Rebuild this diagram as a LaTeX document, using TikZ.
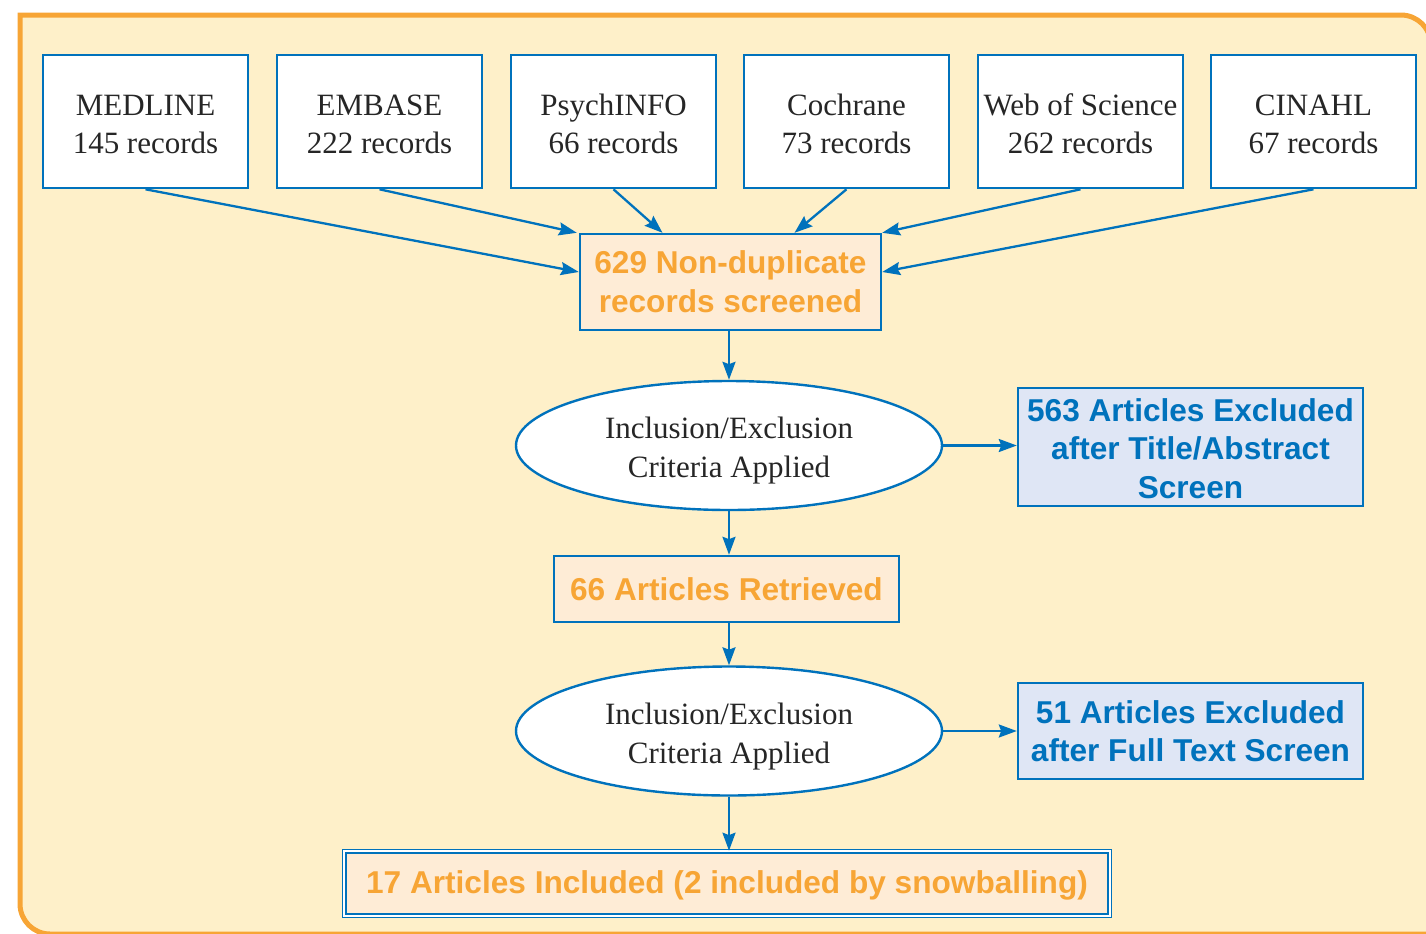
\documentclass[tikz,border=0pt]{standalone}
\usepackage{fontspec}
\setmainfont{Liberation Serif}
\newfontfamily\hsans{Liberation Sans}
\usetikzlibrary{shapes.geometric,arrows.meta}
\definecolor{pblue}{RGB}{0,114,188}
\definecolor{porange}{RGB}{247,165,53}
\definecolor{pbg}{RGB}{254,240,201}
\definecolor{pbox}{RGB}{254,236,214}
\definecolor{pblbox}{RGB}{223,230,245}
\begin{document}
\begin{tikzpicture}[x=0.5pt,y=-0.5pt,
 src/.style={draw=pblue,line width=1.3pt,fill=white,minimum width=102.5pt,minimum height=66.5pt,inner sep=0pt,align=center,font=\fontsize{15.5}{19}\selectfont,text=black!85},
 obox/.style={draw=pblue,line width=1.2pt,fill=pbox,inner sep=0pt,align=center,text=porange,font=\hsans\bfseries\fontsize{15.8}{19.5}\selectfont},
 bbox/.style={draw=pblue,line width=1.2pt,fill=pblbox,inner sep=0pt,align=center,text=pblue,font=\hsans\bfseries\fontsize{15.8}{19.3}\selectfont},
 crit/.style={ellipse,draw=pblue,line width=1.2pt,fill=white,minimum width=213pt,minimum height=64.5pt,inner sep=0pt,align=center,font=\fontsize{15.5}{19.5}\selectfont,text=black!85},
 arr/.style={draw=pblue,line width=1.15pt,-{Stealth[length=9pt,width=6.5pt,inset=1.2pt]}}
]
\useasboundingbox (0,0) rectangle (1426,933);
\clip (0,0) rectangle (1426,933);
% panel
\draw[draw=porange,fill=pbg,line width=2.5pt,line cap=rect]
  (20,15) -- (1401,15) .. controls (1417.5,15) and (1431,28.5) .. (1431,45)
  -- (1431,934) -- (50,934) .. controls (33.5,934) and (20,920.5) .. (20,904) -- (20,15);
% sources
\node[src] (med) at (145.5,121.5) {\rule{0pt}{13pt}MEDLINE\\145 records};
\node[src] (emb) at (379.5,121.5) {\rule{0pt}{13pt}EMBASE\\222 records};
\node[src] (psy) at (613.5,121.5) {\rule{0pt}{13pt}PsychINFO\\66 records};
\node[src] (coc) at (846.5,121.5) {\rule{0pt}{13pt}Cochrane\\73 records};
\node[src] (wos) at (1080.5,121.5) {\rule{0pt}{13pt}Web of Science\\262 records};
\node[src] (cin) at (1313.5,121.5) {\rule{0pt}{13pt}CINAHL\\67 records};
% flow
\node[obox,minimum width=150.5pt,minimum height=48pt] (scr) at (730.5,282) {629 Non-duplicate\\records screened};
\node[crit] (c1) at (729,445.5) {\rule{0pt}{16pt}Inclusion/Exclusion\\Criteria Applied};
\node[bbox,minimum width=172.5pt,minimum height=59pt] (ex1) at (1190.5,447) {\rule{0pt}{13pt}563 Articles Excluded\\after Title/Abstract\\Screen};
\node[obox,minimum width=172.5pt,minimum height=33pt] (ret) at (726.5,589) {66 Articles Retrieved};
\node[crit] (c2) at (729,731) {\rule{0pt}{16pt}Inclusion/Exclusion\\Criteria Applied};
\node[bbox,minimum width=172.5pt,minimum height=48pt] (ex2) at (1190.5,731) {51 Articles Excluded\\after Full Text Screen};
\node[obox,line width=0.7pt,double=white,double distance=1pt,minimum width=382.6pt,minimum height=32.1pt] (inc) at (727,883.5) {\rule{0pt}{13pt}17 Articles Included (2 included by snowballing)};
% arrows
\draw[arr] (med.south) -- ([yshift=5pt]scr.west);
\draw[arr] (emb.south) -- ([xshift=-1pt]scr.north west);
\draw[arr] (psy.south) -- ([xshift=-34pt]scr.north);
\draw[arr] (coc.south) -- ([xshift=32pt]scr.north);
\draw[arr] (wos.south) -- (scr.north east);
\draw[arr] (cin.south) -- ([yshift=5pt]scr.east);
\draw[arr] (c1.north |- scr.south) -- (c1.north);
\draw[arr] (c1.east) -- (ex1.west |- c1.east);
\draw[arr] (c1.south) -- (c1.south |- ret.north);
\draw[arr] (c2.north |- ret.south) -- (c2.north);
\draw[arr] (c2.east) -- (ex2.west |- c2.east);
\draw[arr] (c2.south) -- (c2.south |- inc.north);
\end{tikzpicture}
\end{document}
